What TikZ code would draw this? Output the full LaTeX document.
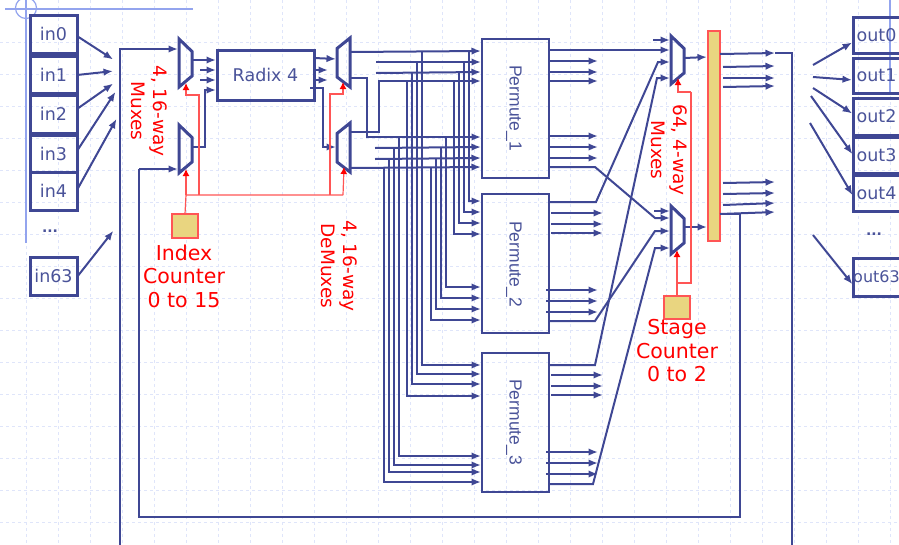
\documentclass[tikz,border=0pt]{standalone}
\usepackage{fontspec}
\setmainfont{DejaVu Sans}
\newfontfamily\permfont{Liberation Sans}
\usetikzlibrary{arrows.meta}
\definecolor{wireblue}{HTML}{3F4794}
\definecolor{textblue}{HTML}{4A5399}
\definecolor{gridblue}{HTML}{DFE5FA}
\definecolor{frameblue}{HTML}{93A4EE}
\definecolor{tanfill}{HTML}{E9D580}
\definecolor{redline}{HTML}{FF5555}
\tikzset{
  wire/.style={draw=wireblue,line width=2pt},
  tip/.style={-{Latex[length=9.5pt,width=7.5pt]},shorten >=1pt},
  redwire/.style={draw=redline,line width=1.2pt},
  redtip/.style={-{Latex[length=7pt,width=7pt,color=red]}},
  muxline/.style={draw=wireblue,line width=3pt,line join=miter},
  iobox/.style={draw=wireblue,line width=3pt,minimum width=47pt,inner sep=0pt,outer sep=0pt,
    text=textblue,font=\fontsize{17.5}{20}\selectfont},
  permbox/.style={draw=wireblue,line width=2pt,minimum width=67pt,minimum height=139pt,outer sep=0pt},
  permtext/.style={text=textblue,rotate=-90,font=\permfont\fontsize{17.5}{20}\selectfont},
  ctrbox/.style={draw=redline,fill=tanfill,line width=1.4pt,outer sep=0pt},
  redlabel/.style={text=red,align=center,font=\fontsize{20.5}{23.5}\selectfont},
  sidelabel/.style={text=red,align=center,rotate=-90,font=\fontsize{18.5}{21.5}\selectfont},
  dotlabel/.style={text=textblue,font=\bfseries\fontsize{14}{16}\selectfont}
}
\begin{document}
\begin{tikzpicture}[x=1pt,y=-1pt]
  \useasboundingbox (0,0) rectangle (899,544);
  \clip (0,0) rectangle (899,544);
  % slide grid
  \foreach \x in {26,58,...,890} \draw[gridblue,dashed,line width=0.9pt] (\x,0) -- (\x,544);
  \foreach \y in {42,74,...,522} \draw[gridblue,dashed,line width=0.9pt] (0,\y) -- (899,\y);
  % slide frame lines
  \draw[frameblue,line width=1.2pt] (5,9) -- (193,9);
  \draw[frameblue,line width=1.2pt] (26,0) -- (26,243);
  \draw[frameblue,line width=1.2pt] (890,0) -- (890,92);
  \draw[frameblue,line width=1.2pt] (26,8) circle (10.5);

  % input and output boxes
  \foreach \n/\y/\h in {0/34/38,1/74.5/37,2/114/38,3/153.5/37,4/191/38,63/276/38}
    \node[iobox,minimum height=\h pt] (in\n) at (53.5,\y) {in\n};
  \foreach \n/\y/\h in {0/35/36,1/75.5/35,2/116.5/37,3/155/36,4/193/36}
    \node[iobox,minimum height=\h pt] (out\n) at (876.5,\y) {out\n};
  \node[iobox,minimum height=38pt,font=\fontsize{16}{18}\selectfont] (out63) at (876.5,277) {out63};
  \node[dotlabel] (indots) at (50,231) {...};
  \node[dotlabel] (outdots) at (874,234) {...};

  % main blocks
  \node[draw=wireblue,line width=3pt,minimum width=97pt,minimum height=50pt,outer sep=0pt,
    text=textblue,font=\fontsize{17.5}{20}\selectfont] (radix) at (265.5,75) {Radix 4};
  \node[permbox] (perm1) at (515.5,108.5) {};
  \node[permbox] (perm2) at (515.5,263.5) {};
  \node[permbox] (perm3) at (515.5,422.5) {};
  \node[permtext] (perm1text) at (514,108) {Permute\_1};
  \node[permtext] (perm2text) at (514,264) {Permute\_2};
  \node[permtext] (perm3text) at (514,422) {Permute\_3};
  \node[ctrbox,minimum width=12pt,minimum height=210pt] (stagebar) at (714,136) {};
  \node[ctrbox,minimum width=26pt,minimum height=24pt] (indexctr) at (185,226) {};
  \node[ctrbox,minimum width=26pt,minimum height=23pt] (stagectr) at (677,307.5) {};

  % muxes, wide side left
  \foreach \n/\x/\y in {muxa/179/39,muxb/179/125,muxc/671/36,muxd/671/206} {
    \draw[muxline] (\x,\y) -- (\x+13,\y+12.5) -- (\x+13,\y+37) -- (\x,\y+48) -- cycle;
    \coordinate (\n) at (\x,\y+24);
    \coordinate (\n-out) at (\x+13,\y+24);
    \coordinate (\n-sel) at (\x+7,\y+42);
  }
  % demuxes, wide side right
  \foreach \n/\y in {dmxa/38,dmxb/123} {
    \draw[muxline] (350,\y) -- (337,\y+10.5) -- (337,\y+39) -- (350,\y+49) -- cycle;
    \coordinate (\n) at (337,\y+24);
    \coordinate (\n-out) at (350,\y+24);
    \coordinate (\n-sel) at (343.5,\y+44);
  }

  % into the input bus
  \foreach \n/\ys/\xe/\ye in {0/36/114/60,1/75/114/71,2/109/114/83,3/151/116/91,4/190/117/118,63/277/114/230} {
    \coordinate (bus\n) at (\xe,\ye);
    \draw[wire,tip] (in\n.east |- 0,\ys) -- (bus\n);
  }
  \draw[wire,tip] (120,550) |- (muxa |- 0,49);
  % mux to radix
  \draw[wire,tip] (muxa-out |- 0,60) -- (radix.west |- 0,60);
  \draw[wire,tip] (200,70) -- (radix.west |- 0,70);
  \draw[wire,tip] (200,80) -- (radix.west |- 0,80);
  \draw[wire,tip] (muxb-out |- 0,147) -- (205,147) |- (radix.west |- 0,90);
  % radix to demux
  \draw[wire,tip] (radix.east |- 0,58) -- (dmxa |- 0,59);
  \draw[wire,tip] (radix.east |- 0,70) -- (329,70);
  \draw[wire,tip] (radix.east |- 0,80) -- (329,80);
  \draw[wire,tip] (310,88) -- (323,88) |- (dmxb |- 0,147);

  % first group into permute_1
  \draw[wire,tip] (dmxa-out |- 0,52) -- (perm1.west |- 0,51);
  \draw[wire,tip] (376,62) -- (perm1.west |- 0,62);
  \draw[wire,tip] (376,73) -- (perm1.west |- 0,72);
  \draw[wire,tip] (dmxb-out |- 0,132) -- (379,132) |- (perm1.west |- 0,81);
  % second group into permute_1
  \draw[wire,tip] (dmxa-out |- 0,78) -- (367,78) |- (perm1.west |- 0,137);
  \draw[wire,tip] (375,148) -- (perm1.west |- 0,147);
  \draw[wire,tip] (375,159) -- (perm1.west |- 0,158);
  \draw[wire,tip] (dmxb-out |- 0,168) -- (perm1.west |- 0,167);
  % fan out to permute_2
  \foreach \x/\ys/\y in {469/51/201,464/62/212,459/73/223,454/82/234,446/137/287,441/148/298,436/159/309,431/168/320}
    \draw[wire,tip] (\x,\ys) |- (perm2.west |- 0,\y);
  % fan out to permute_3
  \foreach \x/\ys/\y in {422/51/365,417/62/374,412/73/384,407/82/396,399/137/456,394/148/465,389/159/472,384/168/482}
    \draw[wire,tip] (\x,\ys) |- (perm3.west |- 0,\y);

  % permute outputs
  \foreach \y in {61,72,81,136,147,158} \draw[wire,tip] (perm1.east |- 0,\y) -- (599,\y);
  \foreach \y in {213,224,233} \draw[wire,tip] (551,\y) -- (604,\y);
  \foreach \y in {290,301,312} \draw[wire,tip] (546,\y) -- (599,\y);
  \foreach \y in {375,386,395} \draw[wire,tip] (551,\y) -- (604,\y);
  \foreach \y in {452,463,474} \draw[wire,tip] (546,\y) -- (599,\y);

  % into the output muxes
  \draw[wire,tip] (653,40) -- (muxc |- 0,40);
  \draw[wire,tip] (perm1.east |- 0,50) -- (muxc |- 0,50);
  \draw[wire,tip] (perm2.east |- 0,202) -- (596,202) -- (658,62) -- (muxc |- 0,62);
  \draw[wire,tip] (perm3.east |- 0,365) -- (595,365) -- (657,78) -- (muxc |- 0,78);
  \draw[wire,tip] (654,211) -- (muxd |- 0,211);
  \draw[wire,tip] (perm1.east |- 0,167) -- (595,167) -- (655,218) -- (muxd |- 0,218);
  \draw[wire,tip] (perm2.east |- 0,321) -- (595,321) -- (655,231) -- (muxd |- 0,231);
  \draw[wire,tip] (perm3.east |- 0,484) -- (593,484) -- (655,248) -- (muxd |- 0,248);
  % output muxes to bar
  \draw[wire,tip] (muxc-out |- 0,58) -- (stagebar.west |- 0,57);
  \draw[wire,tip] (muxd-out |- 0,227) -- (stagebar.west |- 0,227);

  % out of the bar
  \foreach \ys/\ye in {67/66,78/78,87/86,183/182,194/193,205/203}
    \draw[wire,tip] (723,\ys) -- (776,\ye);
  \draw[wire,tip] (stagebar.east |- 0,54) -- (776,53);
  \draw[wire,tip] (stagebar.east |- 0,214) -- (776,212);
  \draw[wire] (775,53) -- (792,53) -- (792,550);
  % feedback to second input mux
  \draw[wire] (stagebar.east |- 0,214) -- (740,214) -- (740,517) -- (139,517) -- (139,169);
  \draw[wire,tip] (139,169) -- (muxb |- 0,169);

  % to the output boxes
  \foreach \n/\xs/\ys/\ye in {0/813/65/42,1/813/77/80,2/813/88/114,3/811/96/155,4/810/123/196,63/813/235/285}
    \draw[wire,tip] (\xs,\ys) -- (out\n.west |- 0,\ye);

  % index counter select lines
  \coordinate (idxsplit) at (186,195);
  \coordinate (idxturn) at (330,195);
  \draw[redwire] (indexctr.north) -- (idxsplit) -- (343,195);
  \draw[redwire,redtip] (idxsplit) -- (186,169);
  \draw[redwire,redtip] (199,195) |- (186,95) -- (186,83);
  \draw[redwire,redtip] (idxturn) |- (343,94) -- (343,82);
  \draw[redwire,redtip] (343,195) -- (344,167);
  % stage counter select lines
  \draw[redwire,redtip] (stagectr.north) -- (677,250);
  \draw[redwire] (677,283) -| (691,92);
  \draw[redwire,redtip] (691,92) -| (678,78);

  % red labels
  \node[redlabel] (indextext) at (184,276) {Index\\Counter\\0 to 15};
  \node[redlabel] (stagetext) at (677,351) {Stage\\Counter\\0 to 2};
  \node[sidelabel] (muxtext) at (149,111) {4, 16-way\\Muxes};
  \node[sidelabel] (dmxtext) at (339,266) {4, 16-way\\DeMuxes};
  \node[sidelabel] (stagemuxtext) at (669,150) {64, 4-way\\Muxes};
\end{tikzpicture}
\end{document}
